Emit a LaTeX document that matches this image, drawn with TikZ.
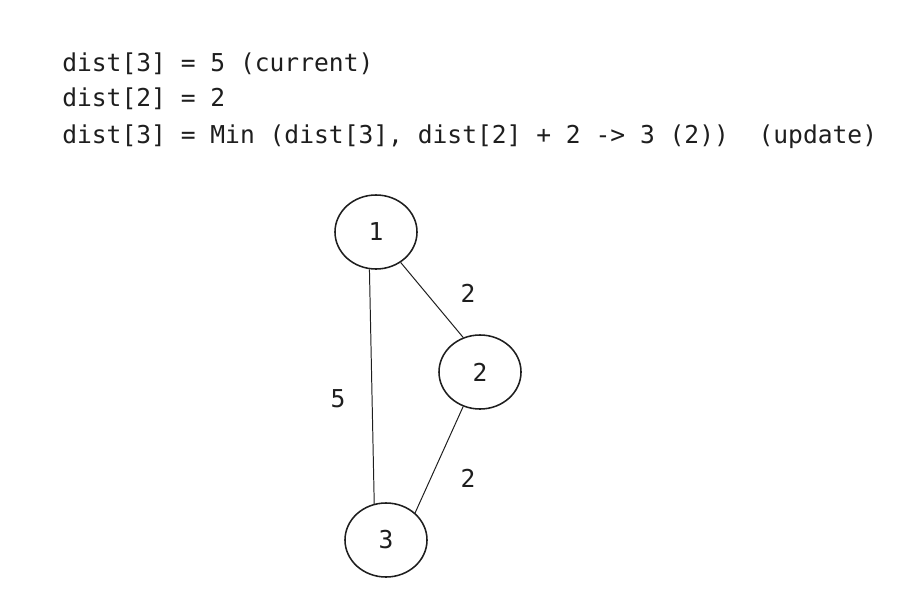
\documentclass[tikz,border=0pt]{standalone}
\usepackage{fontspec}
\setmonofont{DejaVu Sans Mono}
\usetikzlibrary{shapes.geometric}
\definecolor{ink}{HTML}{1E1E1E}

\begin{document}
\begin{tikzpicture}[x=0.025cm,y=-0.025cm,color=ink]

    \fill[white] (0,0) rectangle (906,604);

    \begin{scope}[every node/.style={anchor=base west,inner sep=0pt,font=\ttfamily\fontsize{17.5pt}{21pt}\selectfont}]
        \node (L1) at (62,72) {dist[3] = 5 (current)};
        \node (L2) at (62,107) {dist[2] = 2};
        \node (L3) at (62,143) {dist[3] = Min (dist[3], dist[2] + 2 -> 3 (2))~ (update)};
    \end{scope}

    \begin{scope}[every node/.style={ellipse,draw,line width=1.1pt,inner sep=0pt,minimum width=2.05cm,minimum height=1.85cm,font=\ttfamily\fontsize{17.5pt}{21pt}\selectfont}]
        \node (v1) at (376,232) {1};
        \node (v2) at (480,372) {2};
        \node (v3) at (386,540) {3};
    \end{scope}

    \begin{scope}[every path/.style={line width=0.7pt}]
        \path (v1.260) edge (v3.108);
        \path (v1.309) edge (v2.116);
        \path (v2.244) edge (v3.43);
    \end{scope}

    \begin{scope}[every node/.style={font=\ttfamily\fontsize{17.5pt}{21pt}\selectfont}]
        \node (w12) at (468,293) {2};
        \node (w13) at (338,399) {5};
        \node (w23) at (468,478) {2};
    \end{scope}

\end{tikzpicture}
\end{document}
